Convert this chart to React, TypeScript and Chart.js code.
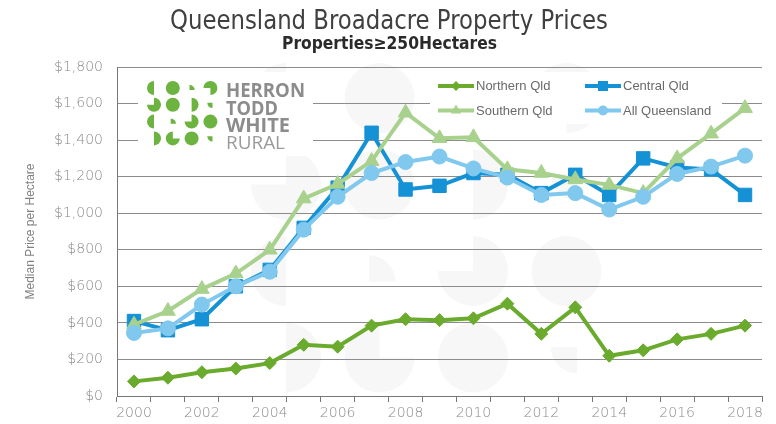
import React, { useEffect, useRef } from 'react';
import { Chart, registerables } from 'chart.js';

Chart.register(...registerables);

// ---------- data ----------
const years = ['2000','2001','2002','2003','2004','2005','2006','2007','2008','2009','2010','2011','2012','2013','2014','2015','2016','2017','2018'];
const northernQld = [80, 100, 130, 150, 180, 280, 270, 385, 420, 415, 425, 505, 340, 485, 220, 250, 310, 340, 385];
const centralQld = [410, 360, 420, 600, 690, 920, 1140, 1440, 1130, 1150, 1220, 1210, 1110, 1210, 1100, 1300, 1250, 1240, 1100];
const southernQld = [390, 465, 585, 670, 800, 1080, 1160, 1285, 1550, 1410, 1415, 1240, 1220, 1185, 1155, 1110, 1300, 1435, 1575];
const allQueensland = [345, 370, 500, 600, 680, 910, 1090, 1220, 1280, 1310, 1245, 1195, 1100, 1110, 1020, 1090, 1215, 1255, 1315];
const seriesNames = ['Northern Qld', 'Central Qld', 'Southern Qld', 'All Queensland'];

const TITLE = 'Queensland Broadacre Property Prices';
const SUBTITLE = 'Properties\u2265250Hectares';
const Y_TITLE = 'Median Price per Hectare';
const LOGO_WORDS = ['HERRON', 'TODD', 'WHITE', 'RURAL'];

// ---------- styles ----------
const C_N = '#6aab2e';
const C_C = '#1591d6';
const C_S = '#a9d18e';
const C_A = '#80c8ee';
const LOGO_GREEN = '#6cb33f';

type Shape = [number, number, string];
// col, row, shape
const LOGO_SHAPES: Shape[] = [
  [0, 0, 'left'], [1, 0, 'full'], [2, 0, 'wedgeTR'], [3, 0, 'noBL'],
  [0, 1, 'noTL'], [1, 1, 'full'], [2, 1, 'right'], [3, 1, 'wedgeBL'],
  [0, 2, 'left'], [1, 2, 'wedgeTR'], [2, 2, 'noTL'], [3, 2, 'full'],
  [0, 3, 'right'], [1, 3, 'noTR'], [2, 3, 'full'], [3, 3, 'wedgeBL'],
];

function drawShape(ctx: CanvasRenderingContext2D, cx: number, cy: number, r: number, kind: string) {
  const P = Math.PI;
  ctx.beginPath();
  switch (kind) {
    case 'full': ctx.arc(cx, cy, r, 0, 2 * P); break;
    case 'left': ctx.moveTo(cx, cy); ctx.arc(cx, cy, r, P / 2, 1.5 * P); break;
    case 'right': ctx.moveTo(cx, cy); ctx.arc(cx, cy, r, -P / 2, P / 2); break;
    case 'noTL': ctx.moveTo(cx, cy); ctx.arc(cx, cy, r, -P / 2, P); break;
    case 'noBL': ctx.moveTo(cx, cy); ctx.arc(cx, cy, r, P, 2.5 * P); break;
    case 'noTR': ctx.moveTo(cx, cy); ctx.arc(cx, cy, r, 0, 1.5 * P); break;
    case 'wedgeTR': ctx.moveTo(cx - r * 0.3, cy + r * 0.3); ctx.arc(cx - r * 0.3, cy + r * 0.3, r * 0.75, -P / 2, 0); break;
    case 'wedgeBL': ctx.moveTo(cx + r * 0.3, cy - r * 0.3); ctx.arc(cx + r * 0.3, cy - r * 0.3, r * 0.75, P / 2, P); break;
  }
  ctx.closePath();
  ctx.fill();
}

function drawLogoGrid(ctx: CanvasRenderingContext2D, x0: number, y0: number, dx: number, dy: number, r: number, color: string) {
  ctx.save();
  ctx.fillStyle = color;
  for (const [c, rw, k] of LOGO_SHAPES) drawShape(ctx, x0 + c * dx, y0 + rw * dy, r, k);
  ctx.restore();
}

function fitText(ctx: CanvasRenderingContext2D, text: string, x: number, y: number, width: number, font: string, color: string, align: 'left' | 'center') {
  ctx.save();
  ctx.font = font;
  ctx.fillStyle = color;
  ctx.textBaseline = 'alphabetic';
  ctx.textAlign = align;
  const w = ctx.measureText(text).width;
  const s = width / w;
  ctx.translate(x, y);
  ctx.scale(s, 1);
  ctx.fillText(text, 0, 0);
  ctx.restore();
}

function legendMarker(ctx: CanvasRenderingContext2D, style: string, x: number, y: number, r: number, color: string) {
  ctx.save();
  ctx.fillStyle = color;
  ctx.beginPath();
  if (style === 'circle') ctx.arc(x, y, r, 0, Math.PI * 2);
  else if (style === 'rect') ctx.rect(x - r, y - r, 2 * r, 2 * r);
  else if (style === 'rectRot') { ctx.moveTo(x, y - r); ctx.lineTo(x + r, y); ctx.lineTo(x, y + r); ctx.lineTo(x - r, y); }
  else if (style === 'triangle') { ctx.moveTo(x, y - r); ctx.lineTo(x + r * 0.87, y + r * 0.5); ctx.lineTo(x - r * 0.87, y + r * 0.5); }
  ctx.closePath();
  ctx.fill();
  ctx.restore();
}

const decorPlugin = {
  id: 'decor',
  beforeDraw(chart: any) {
    const ctx = chart.ctx as CanvasRenderingContext2D;
    // faint enlarged watermark of the logo
    drawLogoGrid(ctx, 286, 98, 93.5, 86.5, 35, '#f7f7f7');
    // titles
    fitText(ctx, TITLE, 389, 29, 438, '26px "Liberation Sans Narrow", "DejaVu Sans Condensed", sans-serif', '#404040', 'center');
    fitText(ctx, SUBTITLE, 389.5, 49, 215, 'bold 18px "Liberation Sans Narrow", "DejaVu Sans Condensed", sans-serif', '#2a2a2a', 'center');
  },
  beforeDatasetsDraw(chart: any) {
    const ctx = chart.ctx as CanvasRenderingContext2D;
    ctx.save();
    ctx.fillStyle = '#ffffff';
    ctx.fillRect(138, 72, 175, 84);
    ctx.fillRect(430, 72, 292, 52);
    ctx.restore();
    // logo
    drawLogoGrid(ctx, 154, 88, 18.8, 16.8, 7, LOGO_GREEN);
    const bold = 'bold 19px "Open Sans", "Liberation Sans", sans-serif';
    fitText(ctx, LOGO_WORDS[0], 226, 97, 79, bold, '#8c8c8c', 'left');
    fitText(ctx, LOGO_WORDS[1], 226, 114.5, 52, bold, '#8c8c8c', 'left');
    fitText(ctx, LOGO_WORDS[2], 226, 131.5, 64, bold, '#8c8c8c', 'left');
    fitText(ctx, LOGO_WORDS[3], 226, 148.5, 59, '19px "Open Sans", "Liberation Sans", sans-serif', '#9a9a9a', 'left');
  },
  afterDraw(chart: any) {
    const ctx = chart.ctx as CanvasRenderingContext2D;
    const items = chart.data.datasets.map((d: any) => d);
    const pos = [[438, 86], [585, 86], [438, 110.5], [585, 110.5]];
    const sizes: Record<string, number> = { rectRot: 5, rect: 5, triangle: 6, circle: 5 };
    items.forEach((d: any, i: number) => {
      const [x, y] = pos[i];
      ctx.save();
      ctx.strokeStyle = d.borderColor;
      ctx.lineWidth = 4;
      ctx.beginPath();
      ctx.moveTo(x, y);
      ctx.lineTo(x + 36, y);
      ctx.stroke();
      ctx.restore();
      legendMarker(ctx, d.pointStyle, x + 18, y, sizes[d.pointStyle], d.borderColor);
      ctx.save();
      ctx.font = '13px "Liberation Sans", sans-serif';
      ctx.fillStyle = '#6a6a6a';
      ctx.textBaseline = 'middle';
      ctx.textAlign = 'left';
      ctx.fillText(d.label, x + 38, y + 0.5);
      ctx.restore();
    });
  },
};

export default function App() {
  const ref = useRef<HTMLCanvasElement | null>(null);
  useEffect(() => {
    if (!ref.current) return;
    const tickFont = { family: '"DejaVu Sans", sans-serif', size: 14, weight: '200' as any };
    const chart = new Chart(ref.current, {
      type: 'line',
      data: {
        labels: years,
        datasets: [
          { label: seriesNames[0], data: northernQld, borderColor: C_N, backgroundColor: C_N, pointBackgroundColor: C_N, pointBorderColor: C_N, borderWidth: 4, pointStyle: 'rectRot', pointRadius: 6.5, pointBorderWidth: 1, order: 3 },
          { label: seriesNames[1], data: centralQld, borderColor: C_C, backgroundColor: C_C, pointBackgroundColor: C_C, pointBorderColor: C_C, borderWidth: 4, pointStyle: 'rect', pointRadius: 9.5, pointBorderWidth: 1, order: 2 },
          { label: seriesNames[2], data: southernQld, borderColor: C_S, backgroundColor: C_S, pointBackgroundColor: C_S, pointBorderColor: C_S, borderWidth: 4, pointStyle: 'triangle', pointRadius: 8.5, pointBorderWidth: 1, order: 1 },
          { label: seriesNames[3], data: allQueensland, borderColor: C_A, backgroundColor: C_A, pointBackgroundColor: C_A, pointBorderColor: C_A, borderWidth: 4, pointStyle: 'circle', pointRadius: 7.5, pointBorderWidth: 1, order: 0 },
        ],
      },
      options: {
        animation: false,
        responsive: false,
        devicePixelRatio: 1,
        layout: { padding: { top: 67, right: 14, left: 0, bottom: 0 } },
        plugins: { legend: { display: false }, tooltip: { enabled: false }, title: { display: false } },
        scales: {
          x: {
            type: 'category',
            offset: true,
            grid: { offset: true, drawOnChartArea: false, drawTicks: true, tickLength: 6, color: '#777777' },
            border: { display: true, color: '#777777', width: 1 },
            ticks: {
              autoSkip: false, maxRotation: 0, minRotation: 0, padding: 3, color: '#8a8a8a', font: tickFont,
              callback: (_v: any, i: number) => (i % 2 === 0 ? years[i] : ''),
            },
            afterFit: (s: any) => { s.height = 28; },
          },
          y: {
            min: 0, max: 1800,
            grid: { color: '#8c8c8c', drawTicks: false, lineWidth: 1 },
            border: { display: true, color: '#777777', width: 1 },
            ticks: {
              stepSize: 200, padding: 14, color: '#8a8a8a', font: tickFont,
              callback: (v: any) => '$' + Number(v).toLocaleString('en-US'),
            },
            title: { display: true, text: Y_TITLE, color: '#808080', font: { family: '"Liberation Sans", sans-serif', size: 12 }, padding: { top: 23, bottom: 0 } },
            afterFit: (s: any) => { s.width = 117; },
          },
        },
      },
      plugins: [decorPlugin],
    } as any);
    return () => chart.destroy();
  }, []);
  return (
    <div style={{ position: 'absolute', left: 0, top: 0, width: 776, height: 424, background: '#ffffff' }}>
      <canvas ref={ref} width={776} height={424} style={{ width: 776, height: 424, display: 'block' }} />
    </div>
  );
}
